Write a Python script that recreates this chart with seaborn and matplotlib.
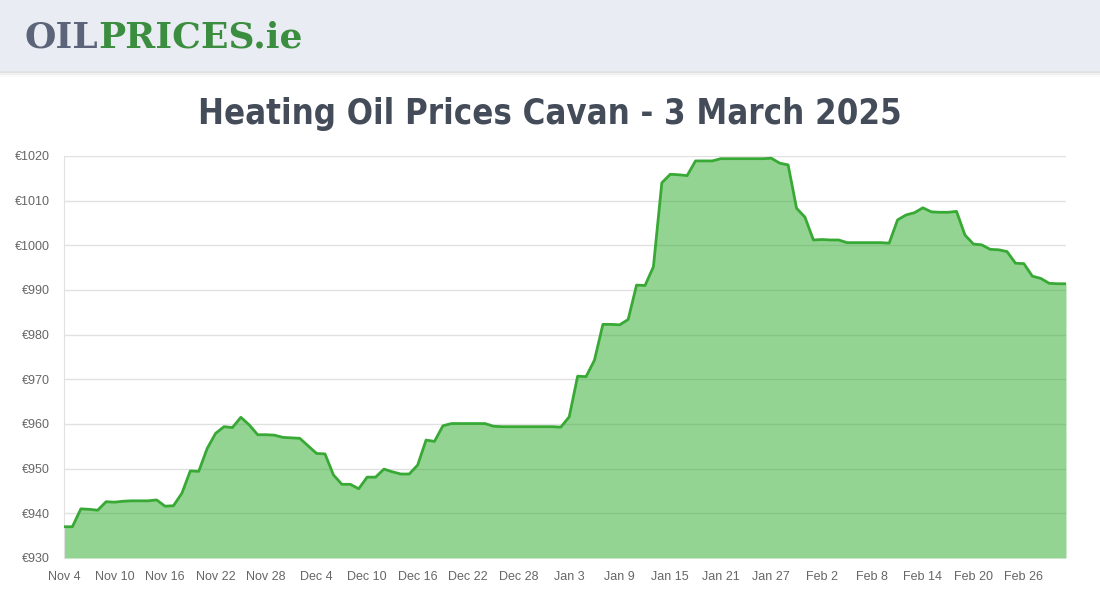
import pandas as pd
import matplotlib
matplotlib.use("Agg")
import matplotlib.pyplot as plt
import matplotlib.patches as mpatches
import seaborn as sns

# daily prices (Nov 4 2024 - Mar 3 2025)
start_date = "2024-11-04"
end_date = "2025-03-03"
nov_prices = [937, 937, 941, 940.9, 940.7, 942.6, 942.5, 942.7, 942.8, 942.8,
              942.8, 943.0, 941.6, 941.7, 944.5, 949.5, 949.4, 954.5, 957.9, 959.4,
              959.2, 961.5, 959.8, 957.6, 957.6, 957.5, 957.0]
dec_prices = [956.9, 956.8, 955.1, 953.4, 953.3, 948.6, 946.5, 946.5, 945.5, 948.1,
              948.1, 949.9, 949.3, 948.8, 948.8, 950.8, 956.4, 956.1, 959.6, 960.1,
              960.1, 960.1, 960.1, 960.1, 959.5, 959.4, 959.4, 959.4, 959.4, 959.4,
              959.4]
jan_prices = [959.4, 959.3, 961.6, 970.7, 970.6, 974.3, 982.3, 982.3, 982.2, 983.4,
              991.1, 991.0, 995.2, 1014.0, 1015.9, 1015.8, 1015.6, 1018.9, 1018.9, 1018.9,
              1019.4, 1019.4, 1019.4, 1019.4, 1019.4, 1019.4, 1019.5, 1018.4, 1018.0, 1008.3,
              1006.3]
feb_prices = [1001.2, 1001.3, 1001.2, 1001.2, 1000.6, 1000.6, 1000.6, 1000.6, 1000.6, 1000.5,
              1005.7, 1006.8, 1007.3, 1008.4, 1007.5, 1007.4, 1007.4, 1007.6, 1002.3, 1000.3,
              1000.1, 999.1, 999.0, 998.6, 996.0, 995.9, 993.1, 992.6]
mar_prices = [991.5, 991.4, 991.4]

y_ticks = [930, 940, 950, 960, 970, 980, 990, 1000, 1010, 1020]
x_tick_labels = ["Nov 4", "Nov 10", "Nov 16", "Nov 22", "Nov 28", "Dec 4", "Dec 10",
                 "Dec 16", "Dec 22", "Dec 28", "Jan 3", "Jan 9", "Jan 15", "Jan 21",
                 "Jan 27", "Feb 2", "Feb 8", "Feb 14", "Feb 20", "Feb 26"]
title = "Heating Oil Prices Cavan - 3 March 2025"

df = pd.DataFrame({
    "date": pd.date_range(start_date, end_date, freq="D"),
    "price": nov_prices + dec_prices + jan_prices + feb_prices + mar_prices,
})

sns.set_style("white")
plt.rcParams["font.family"] = ["Liberation Sans", "DejaVu Sans"]

fig = plt.figure(figsize=(11, 6), dpi=100)

# header band with logo
for k, a in enumerate([0.06, 0.04, 0.02]):
    fig.add_artist(mpatches.Rectangle((0, 1 - (73 + 2 * k) / 600), 1, (3 + 2 * k) / 600,
                                      transform=fig.transFigure, color="#000000", alpha=a,
                                      lw=0, zorder=0))
fig.add_artist(mpatches.Rectangle((0, 1 - 70 / 600), 1, 70 / 600, transform=fig.transFigure,
                                  color="#e9ecf3", zorder=0.5))

logo1 = fig.text(25 / 1100, 1 - 38 / 600, "OIL", color="#5b6478", fontsize=26,
                 family="DejaVu Serif", weight="heavy", va="center", ha="left")
fig.canvas.draw()
bb = logo1.get_window_extent()
fig.text(bb.x1 / 1100, 1 - 38 / 600, "PRICES.ie", color="#3b8d3f", fontsize=26,
         family="DejaVu Serif", weight="heavy", va="center", ha="left")

# title, condensed and scaled to the reference width
t = fig.text(0.5, 1 - 114 / 600, title, ha="center", va="center", color="#444c5a",
             fontsize=34, family="DejaVu Sans", fontstretch="condensed", weight="bold")
fig.canvas.draw()
w = t.get_window_extent().width
t.set_fontsize(34 * 705 / w)

ax = fig.add_axes([64 / 1100, 42 / 600, 1002 / 1100, 402 / 600])
ax.fill_between(df["date"], df["price"], 930, color="#28aa28", alpha=0.5, lw=0, zorder=2)
sns.lineplot(data=df, x="date", y="price", ax=ax, color="#38a935", linewidth=2, zorder=3)

ax.set_xlim(df["date"].iloc[0], df["date"].iloc[-1])
ax.set_ylim(930, 1020)
ax.set_yticks(y_ticks)
ax.set_yticklabels([f"€{v}" for v in y_ticks])
tick_dates = df["date"].iloc[::6][:len(x_tick_labels)]
ax.set_xticks(tick_dates)
ax.set_xticklabels(x_tick_labels)
ax.set_xlabel("")
ax.set_ylabel("")

ax.yaxis.grid(True, color="#e1e1e1", linewidth=1, zorder=1)
ax.set_axisbelow(True)
for s in ["top", "right", "bottom"]:
    ax.spines[s].set_visible(False)
ax.spines["left"].set_color("#e1e1e1")
ax.tick_params(axis="y", length=8, color="#e1e1e1", labelsize=9, labelcolor="#666666", pad=2)
ax.tick_params(axis="x", length=0, labelsize=9, labelcolor="#666666", pad=9)

fig.savefig("out.png", dpi=100)
